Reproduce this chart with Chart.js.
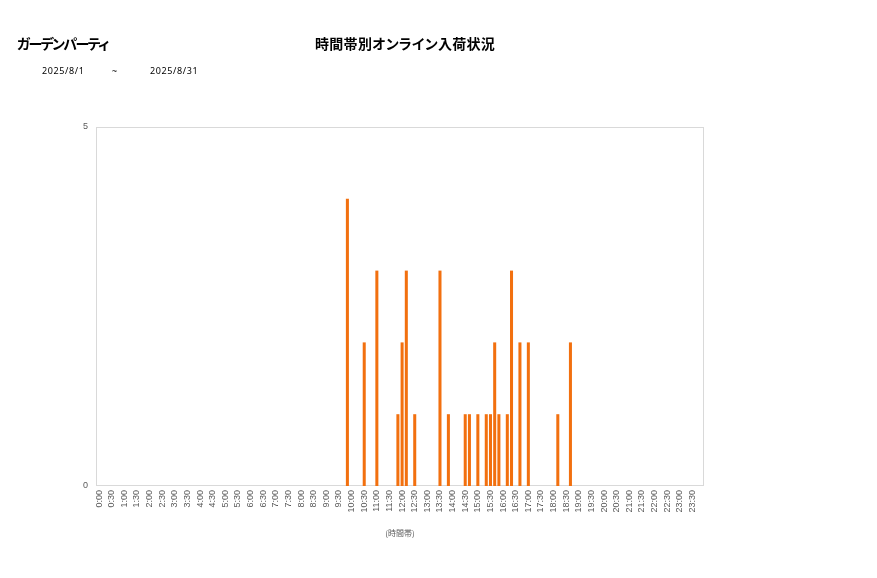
<!DOCTYPE html>
<html>
<head>
<meta charset="utf-8">
<script src="https://cdn.jsdelivr.net/npm/chart.js@4.4.1/dist/chart.umd.min.js"></script>
<style>
  html, body { margin:0; padding:0; background:#fff; }
  #wrap { position:relative; width:877px; height:578px; overflow:hidden; }
  canvas { position:absolute; left:0; top:0; }
  .t { position:absolute; white-space:nowrap; font-family:"Noto Sans CJK JP","Noto Sans",sans-serif; color:#000; font-feature-settings:"palt"; }
  .d { position:absolute; white-space:nowrap; font-family:"Noto Sans","DejaVu Sans",sans-serif; font-size:9px; color:#000; letter-spacing:0.6px; }
</style>
</head>
<body>
<div id="wrap">
  <canvas id="c" width="877" height="578"></canvas>
  <div class="t" style="left:17px; top:33px; font-size:14px; font-weight:bold; letter-spacing:-1.6px;">ガーデンパーティ</div>
  <div class="t" style="left:315px; top:33px; font-size:14px; font-weight:bold; letter-spacing:0.3px;">時間帯別オンライン入荷状況</div>
  <div class="d" style="left:42px; top:64px;">2025/8/1</div>
  <div class="d" style="left:112px; top:64px;">~</div>
  <div class="d" style="left:150px; top:64px;">2025/8/31</div>
</div>
<script>
// 10-minute time slots across the day (labels shown every 30 minutes)
const slotHours = [0,1,2,3,4,5,6,7,8,9,10,11,12,13,14,15,16,17,18,19,20,21,22,23];
const slotMinutes = ["00","10","20","30","40","50"];
// Non-zero counts
const hitTimes  = ["9:50","10:30","11:00","11:50","12:00","12:10","12:30","13:30","13:50","14:30","14:40","15:00","15:20","15:30","15:40","15:50","16:10","16:20","16:40","17:00","18:10","18:40"];
const hitCounts = [4,     2,      3,      1,      2,      3,      1,      3,      1,      1,      1,      1,      1,      1,      2,      1,      1,      3,      2,      2,      1,      2];
const yTicks = [0, 5];

const categories = [];
slotHours.forEach(h => slotMinutes.forEach(m => categories.push(h + ":" + m)));
const values = categories.map(c => {
  const i = hitTimes.indexOf(c);
  return i >= 0 ? hitCounts[i] : 0;
});

const boxPlugin = {
  id: 'box',
  beforeDatasetsDraw(chart) {
    const a = chart.chartArea, ctx = chart.ctx;
    ctx.save();
    ctx.strokeStyle = '#d9d9d9';
    ctx.lineWidth = 1;
    ctx.strokeRect(Math.round(a.left) - 0.5, Math.round(a.top) + 0.5, Math.round(a.right - a.left) + 1, Math.round(a.bottom - a.top) - 1);
    ctx.restore();
  }
};

new Chart(document.getElementById('c'), {
  type: 'bar',
  data: {
    labels: categories,
    datasets: [{
      data: values,
      backgroundColor: '#F2700F',
      borderWidth: 0,
      categoryPercentage: 1.0,
      barPercentage: 0.72
    }]
  },
  options: {
    responsive: false,
    animation: false,
    devicePixelRatio: 1,
    layout: { padding: { left: 0, top: 127, right: 174, bottom: 38 } },
    plugins: { legend: { display: false }, tooltip: { enabled: false }, title: { display: false } },
    scales: {
      x: {
        grid: { display: false, drawTicks: false },
        border: { display: false },
        ticks: {
          autoSkip: false,
          minRotation: 90,
          maxRotation: 90,
          padding: 4,
          color: '#595959',
          font: { family: 'Liberation Sans', size: 9 },
          callback: function(v, i) { return i % 3 === 0 ? categories[i] : ''; }
        },
        title: {
          display: true,
          text: '(時間帯)',
          color: '#595959',
          font: { family: 'Noto Sans CJK JP', size: 8 },
          padding: { top: 0, bottom: 2 }
        },
        afterFit(scale) { scale.height = 54; }
      },
      y: {
        min: 0,
        max: 5,
        grid: { display: false, drawTicks: false },
        border: { display: false },
        afterBuildTicks(scale) { scale.ticks = yTicks.map(v => ({ value: v })); },
        ticks: {
          padding: 9,
          color: '#595959',
          font: { family: 'Liberation Sans', size: 9 }
        },
        afterFit(scale) { scale.width = 97; }
      }
    }
  },
  plugins: [boxPlugin]
});
</script>
</body>
</html>
